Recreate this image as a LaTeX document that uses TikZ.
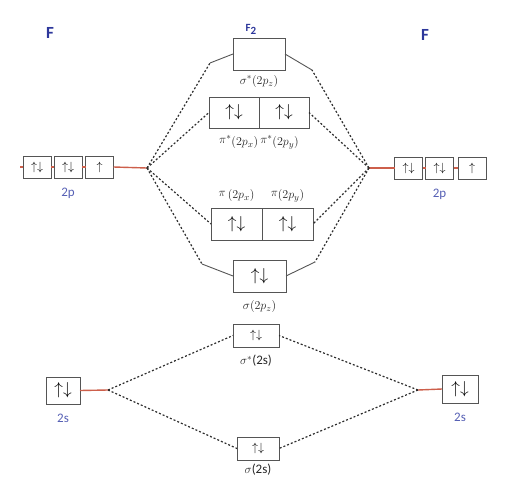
\documentclass[tikz,border=0pt]{standalone}
\usepackage{fontspec}
\setsansfont{Carlito}
\usetikzlibrary{positioning}

\definecolor{atomblue}{RGB}{45,55,155}
\definecolor{aoblue}{RGB}{85,95,180}
\definecolor{lvlred}{RGB}{205,95,75}
\definecolor{boxgray}{RGB}{85,85,85}
\definecolor{linkgray}{RGB}{45,45,45}

\tikzset{
  orb/.style={draw=boxgray, line width=1pt, inner sep=0pt, outer sep=0pt},
  bigorb/.style={orb, font=\fontsize{17}{17}\selectfont},
  smallorb/.style={orb, font=\fontsize{12}{12}\selectfont},
  atomlbl/.style={text=atomblue, font=\sffamily\bfseries\fontsize{17}{17}\selectfont},
  aolbl/.style={text=aoblue, inner sep=1pt, font=\sffamily\fontsize{13}{13}\selectfont},
  molbl/.style={inner sep=1pt, text=black!85, font=\fontsize{13}{13}\selectfont},
  lvl/.style={draw=lvlred, line width=1.4pt},
  link/.style={draw=linkgray, line width=1.2pt, dash pattern=on 2pt off 2pt},
  stub/.style={draw=boxgray, line width=0.9pt},
}

\begin{document}
\begin{tikzpicture}[x=1pt,y=-1pt]
\useasboundingbox (0,0) rectangle (523,480);

% atoms and molecule
\node[atomlbl] (fL) at (50,33) {F};
\node[atomlbl] (fR) at (425,35) {F};
\node[text=atomblue, font=\sffamily\bfseries\fontsize{11}{11}\selectfont] (fTwo) at (251,29) {F\raisebox{-3pt}{2}};

% left atom 2p and 2s
\node[smallorb, minimum width=28pt, minimum height=22pt] (pL1) at (37,167) {$\uparrow\downarrow$};
\node[smallorb, minimum width=28pt, minimum height=22pt] (pL2) at (68,167) {$\uparrow\downarrow$};
\node[smallorb, minimum width=28pt, minimum height=22pt] (pL3) at (99.5,167) {$\uparrow$};
\node[aolbl, below=9pt of pL2] (pLT) {2p};
\node[bigorb, minimum width=34pt, minimum height=27pt] (sL) at (63,390.5) {$\uparrow\downarrow$};
\node[aolbl, below=9pt of sL] (sLT) {2s};

% right atom 2p and 2s
\node[smallorb, minimum width=28pt, minimum height=22pt] (pR1) at (408.5,168) {$\uparrow\downarrow$};
\node[smallorb, minimum width=28pt, minimum height=22pt] (pR2) at (439.5,168) {$\uparrow\downarrow$};
\node[smallorb, minimum width=28pt, minimum height=22pt] (pR3) at (472,168) {$\uparrow$};
\node[aolbl, below=9pt of pR2] (pRT) {2p};
\node[bigorb, minimum width=36pt, minimum height=28pt] (sR) at (460,389) {$\uparrow\downarrow$};
\node[aolbl, below=9pt of sR] (sRT) {2s};

% molecular orbitals
\node[orb, minimum width=52pt, minimum height=32pt] (sigSz) at (259,54) {};
\node[molbl, below=4pt of sigSz] (sigSzT) {$\sigma^*(2p_z)$};
\node[bigorb, minimum width=50pt, minimum height=31pt] (piSx) at (234,112.5) {$\uparrow\downarrow$};
\node[bigorb, minimum width=50pt, minimum height=31pt, right=0pt of piSx] (piSy) {$\uparrow\downarrow$};
\node[molbl, below=6pt of piSx.south east] (piST) {$\pi^*$\raisebox{-2pt}{$(2p_x)$}\,$\pi^*$\raisebox{-2pt}{$(2p_y)$}};
\node[bigorb, minimum width=51pt, minimum height=32pt] (pix) at (236.5,224) {$\uparrow\downarrow$};
\node[bigorb, minimum width=51pt, minimum height=32pt, right=0pt of pix] (piy) {$\uparrow\downarrow$};
\node[molbl, above=5pt of pix] (pixT) {$\pi$\,\raisebox{-2pt}{$(2p_x)$}};
\node[molbl, above=5pt of piy] (piyT) {$\pi$\raisebox{-2pt}{$(2p_y)$}};
\node[bigorb, minimum width=53pt, minimum height=32pt] (sigz) at (259.5,276) {$\uparrow\downarrow$};
\node[molbl, below=7pt of sigz] (sigzT) {$\sigma(2p_z)$};
\node[smallorb, minimum width=46pt, minimum height=23pt] (sigSs) at (256,335.5) {$\uparrow\downarrow$};
\node[molbl, below=7pt of sigSs] (sigSsT) {$\sigma^*$\textsf{(2s)}};
\node[smallorb, minimum width=42pt, minimum height=23pt] (sigs) at (258,448.5) {$\uparrow\downarrow$};
\node[molbl, below=3pt of sigs] (sigsT) {$\sigma$\textsf{(2s)}};

% level junctions and bends
\coordinate (jpL) at (147,168);
\coordinate (jpR) at (369,168);
\coordinate (jsL) at (108,390);
\coordinate (jsR) at (418,390);
\coordinate (tickL) at (20,167);
\coordinate (sigSzL) at (210,63);
\coordinate (sigSzR) at (312,70);
\coordinate (sigzL) at (202,264);
\coordinate (sigzR) at (315,262);

% atomic levels
\draw[lvl] (tickL) -- (pL1.west);
\draw[lvl] (pL1.east) -- (pL2.west);
\draw[lvl] (pL2.east) -- (pL3.west);
\draw[lvl] (pL3.east) -- (jpL);
\draw[lvl] (pR1.east) -- (pR2.west);
\draw[lvl] (pR2.east) -- (pR3.west);
\draw[lvl] (jpR) -- (pR1.west);
\draw[lvl] (sL.east) -- (jsL);
\draw[lvl] (jsR) -- (sR.west);

% short solid ends
\draw[stub] (sigSz.west) -- (sigSzL);
\draw[stub] (sigSz.east) -- (sigSzR);
\draw[stub] (sigz.west) -- (sigzL);
\draw[stub] (sigz.east) -- (sigzR);

% correlation lines
\draw[link] (jpL) -- (sigSzL);
\draw[link] (jpL) -- (piSx.west);
\draw[link] (jpL) -- (pix.west);
\draw[link] (jpL) -- (sigzL);
\draw[link] (jpR) -- (sigSzR);
\draw[link] (jpR) -- (piSy.east);
\draw[link] (jpR) -- (piy.east);
\draw[link] (jpR) -- (sigzR);
\draw[link] (jsL) -- (sigSs.west);
\draw[link] (jsL) -- (sigs.west);
\draw[link] (jsR) -- (sigSs.east);
\draw[link] (jsR) -- (sigs.east);
\end{tikzpicture}
\end{document}
